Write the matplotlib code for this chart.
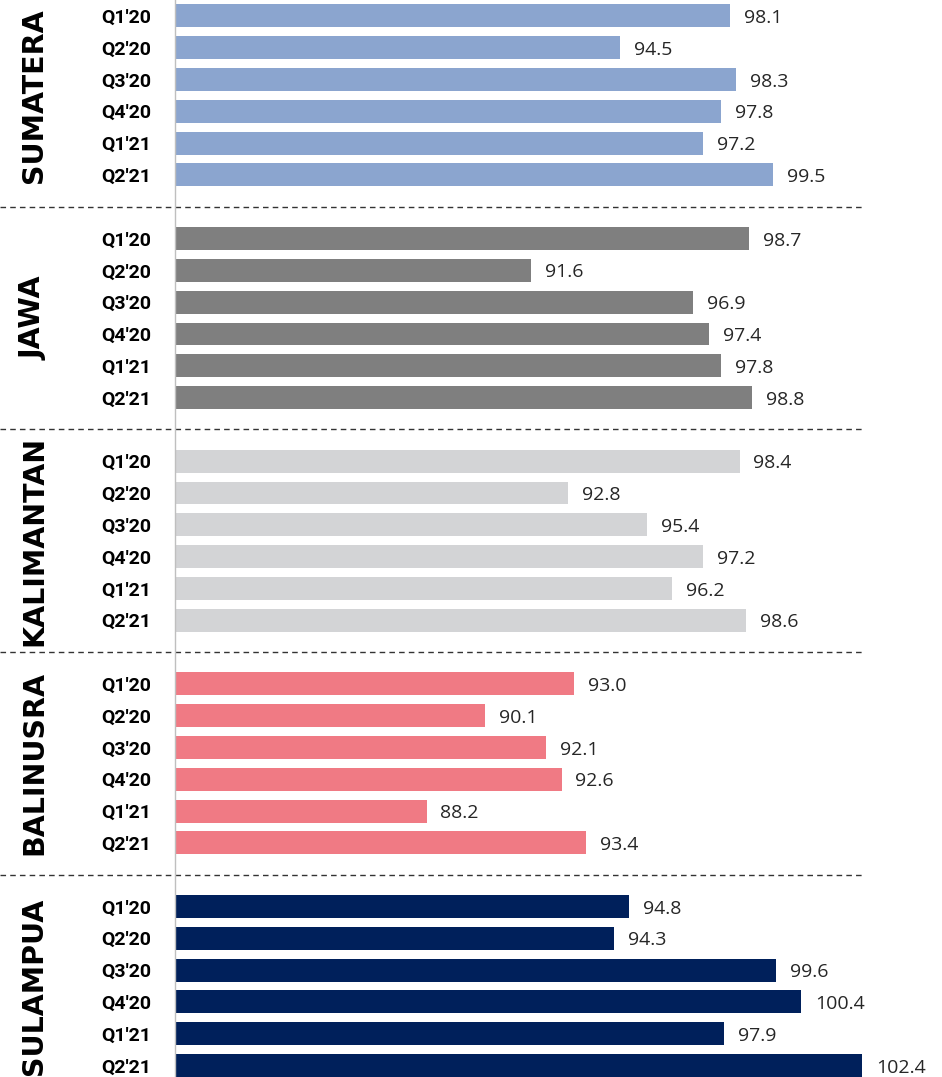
import matplotlib.pyplot as plt
import matplotlib.transforms as mtransforms

regions = ['SUMATERA', 'JAWA', 'KALIMANTAN', 'BALINUSRA', 'SULAMPUA']
quarters = ["Q1'20", "Q2'20", "Q3'20", "Q4'20", "Q1'21", "Q2'21"]
sumatera = [98.1, 94.5, 98.3, 97.8, 97.2, 99.5]
jawa = [98.7, 91.6, 96.9, 97.4, 97.8, 98.8]
kalimantan = [98.4, 92.8, 95.4, 97.2, 96.2, 98.6]
balinusra = [93.0, 90.1, 92.1, 92.6, 88.2, 93.4]
sulampua = [94.8, 94.3, 99.6, 100.4, 97.9, 102.4]
colors = ['#8ba5cf', '#7f7f7f', '#d3d4d6', '#f07a84', '#00205b']

series = [sumatera, jawa, kalimantan, balinusra, sulampua]
base = 80

fig = plt.figure(figsize=(9.42, 10.77), dpi=100)
ax = fig.add_axes([175 / 942, 0, 1 - 175 / 942, 1])
blend = mtransforms.blended_transform_factory(fig.transFigure, ax.transData)

yticks, ylabels = [], []
for g, (vals, col) in enumerate(zip(series, colors)):
    ys = [g * 7 + i for i in range(len(vals))]
    ax.barh(ys, [v - base for v in vals], left=base, height=0.72, color=col)
    for y, v in zip(ys, vals):
        ax.annotate(f'{v:.1f}', (v, y), xytext=(10, -1.5), textcoords='offset points',
                    va='center', ha='left', fontsize=14, color='#262626',
                    family='Open Sans')
    yticks += ys
    ylabels += quarters
    # region name, rotated, left of the tick labels
    ax.text(34 / 942, (ys[0] + ys[-1]) / 2, regions[g], transform=blend,
            rotation=90, va='center', ha='center', fontsize=20.5, fontweight='bold',
            family='DejaVu Sans', color='black', clip_on=False)

# dashed separators between regions
for g in range(1, 5):
    ax.plot([0, 865 / 942], [g * 7 - 1, g * 7 - 1], transform=blend, clip_on=False,
            color='#333333', lw=1, ls=(0, (4, 3)))

ax.set_xlim(base, 105)
ax.set_ylim(33.36, -0.5)
ax.set_yticks(yticks)
ax.set_yticklabels(ylabels, fontsize=14, fontweight='bold', family='Roboto')
ax.tick_params(axis='y', length=0, pad=17)
ax.set_xticks([])
for s in ['top', 'right', 'bottom']:
    ax.spines[s].set_visible(False)
ax.spines['left'].set_color('#bfbfbf')
ax.spines['left'].set_linewidth(1)

fig.savefig('out.png', dpi=100)
